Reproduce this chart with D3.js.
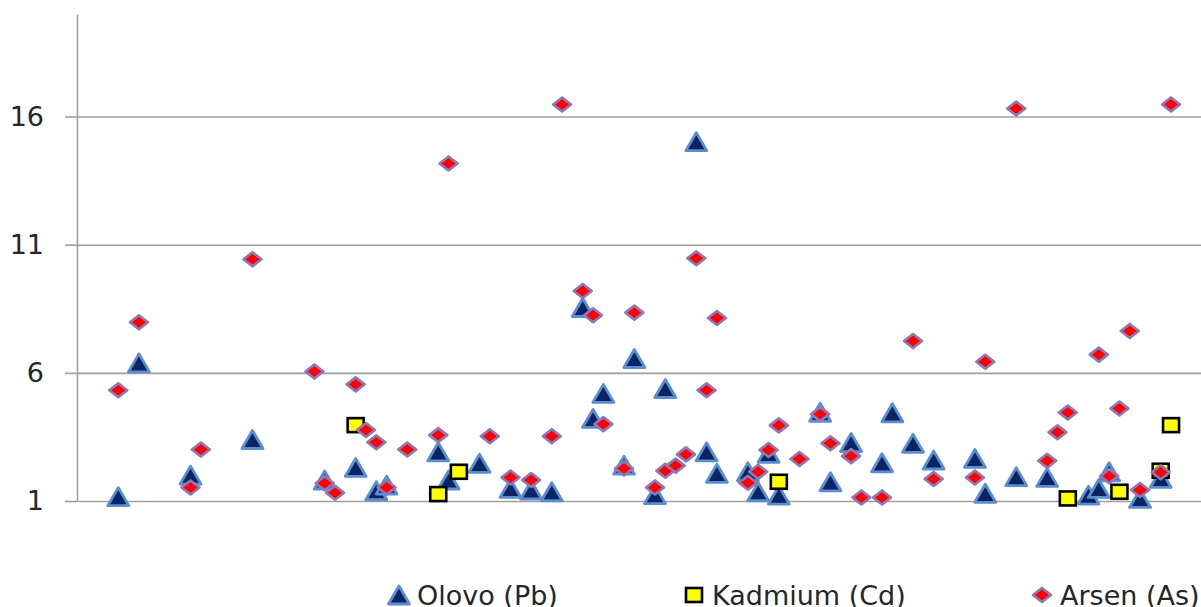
<!DOCTYPE html>
<html lang="en">
<head>
  <meta charset="utf-8">
  <title>Pb Cd As</title>
  <style>
  * { margin:0; padding:0; }
  body { background: white; }
  svg text { font-family: "DejaVu Sans", Verdana, sans-serif; fill: #262626; }
  </style>
  <script src="https://d3js.org/d3.v7.min.js"></script>
</head>
<body>
  <div id="chart"></div>
  <script type="text/javascript">
  // sample numbers and measured values, one pair of arrays per element
  var pbX=[4,6,11,17,24,27,29,30,35,36,39,42,44,46,49,50,51,53,54,56,57,60,61,62,65,66,67,68,72,73,75,78,79,81,83,87,88,91,94,98,99,100,103,105];
  var pbY=[1.17,6.39,2.01,3.40,1.82,2.31,1.40,1.62,2.92,1.82,2.47,1.49,1.43,1.36,8.55,4.22,5.20,2.40,6.56,1.25,5.39,15.02,2.92,2.08,2.14,1.36,2.86,1.23,4.46,1.75,3.28,2.49,4.44,3.25,2.60,2.66,1.30,1.95,1.92,1.23,1.49,2.14,1.10,1.88];

  var cdX=[27,35,37,68,96,101,105,106];
  var cdY=[3.96,1.27,2.14,1.75,1.10,1.36,2.18,3.96];

  var asX=[4,6,11,12,17,23,24,25,27,28,29,30,32,35,36,40,42,44,46,47,49,50,51,53,54,56,57,58,59,60,61,62,65,66,67,68,70,72,73,75,76,78,81,83,87,88,91,94,95,96,99,100,101,102,103,105,106];
  var asY=[5.32,7.97,1.53,3.01,10.43,6.05,1.69,1.32,5.55,3.77,3.29,1.53,3.01,3.57,14.17,3.53,1.92,1.82,3.53,16.47,9.19,8.25,4.00,2.27,8.35,1.53,2.18,2.38,2.82,10.47,5.32,8.14,1.71,2.14,2.99,3.95,2.64,4.39,3.25,2.75,1.14,1.14,7.24,1.86,1.92,6.43,16.31,2.57,3.68,4.45,6.71,1.97,4.61,7.63,1.43,2.12,16.47];

  var yTicks=[1,6,11,16];
  var seriesNames=["Olovo (Pb)","Kadmium (Cd)","Arsen (As)"];

  var w=1201, h=607;
  var svg=d3.select("#chart").append("svg")
    .attr("width",w).attr("height",h);

  var x=d3.scaleLinear().domain([0,109]).range([77,1202]);
  var y=d3.scaleLinear().domain([1,20]).range([501,14]);

  // gridlines
  svg.append("g")
    .attr("transform","translate(77,0)")
    .call(d3.axisRight(y).tickValues(yTicks).tickSize(w-77).tickFormat(""))
    .call(function(g){
      g.select(".domain").remove();
      g.selectAll("line").attr("stroke","#a0a0a0").attr("stroke-width",1.6);
    });

  // y axis
  svg.append("g")
    .attr("transform","translate(77,0)")
    .call(d3.axisLeft(y).tickValues(yTicks).tickSizeInner(12).tickSizeOuter(0).tickPadding(21))
    .call(function(g){
      g.select(".domain").attr("stroke","#a0a0a0").attr("stroke-width",1.6);
      g.selectAll("line").attr("stroke","#a0a0a0").attr("stroke-width",1.6);
      g.selectAll("text").attr("font-size",27).attr("font-family","DejaVu Sans, sans-serif").attr("fill","#262626");
    });

  // marker shapes, centred on their bounding box like Excel does
  var tri="M0,-9L10.5,9L-10.5,9Z";
  var dia="M0,-7L9,0L0,7L-9,0Z";

  function drawTri(sel){
    sel.append("path").attr("d",tri)
      .attr("fill","#0b2463")
      .attr("stroke","#5b8dcf")
      .attr("stroke-width",2.8)
      .attr("stroke-linejoin","round");
  }
  function drawSq(sel){
    sel.append("rect").attr("x",-8).attr("y",-7).attr("width",16).attr("height",14)
      .attr("fill","#ffff00")
      .attr("stroke","#000")
      .attr("stroke-width",2.6);
  }
  function drawDia(sel){
    sel.append("path").attr("d",dia)
      .attr("fill","#ff0000")
      .attr("stroke","#8d78b8")
      .attr("stroke-width",2.6)
      .attr("stroke-linejoin","round");
  }

  var pb=svg.append("g").selectAll("g").data(d3.range(pbX.length)).enter().append("g")
    .attr("transform",function(i){return "translate("+x(pbX[i])+","+y(pbY[i])+")";});
  drawTri(pb);

  var cd=svg.append("g").selectAll("g").data(d3.range(cdX.length)).enter().append("g")
    .attr("transform",function(i){return "translate("+x(cdX[i])+","+y(cdY[i])+")";});
  drawSq(cd);

  var as=svg.append("g").selectAll("g").data(d3.range(asX.length)).enter().append("g")
    .attr("transform",function(i){return "translate("+x(asX[i])+","+y(asY[i])+")";});
  drawDia(as);

  // legend (sits on the bottom edge, as in the original)
  var legX=[399,694,1042];
  var drawers=[drawTri,drawSq,drawDia];
  var leg=svg.append("g");
  seriesNames.forEach(function(name,i){
    var item=leg.append("g").attr("transform","translate("+legX[i]+",595)");
    drawers[i](item);
    item.append("text")
      .attr("x",18)
      .attr("y",9.5)
      .attr("font-size",27)
      .text(name);
  });
  </script>
</body>
</html>
